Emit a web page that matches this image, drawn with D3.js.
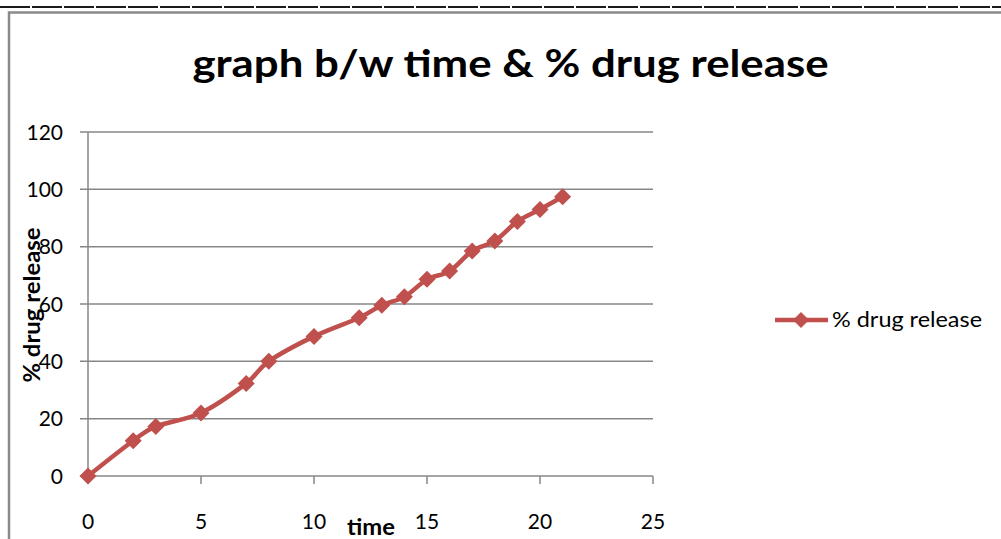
<!DOCTYPE html>
<html>
<head>
<meta charset="utf-8">
<script src="https://cdn.jsdelivr.net/npm/d3@7"></script>
<style>
  html, body { margin: 0; padding: 0; background: #fff; }
  svg { display: block; }
  text { font-family: Lato, "Open Sans", sans-serif; fill: #000; }
</style>
</head>
<body>
<svg id="chart" width="1001" height="539"></svg>
<script>
// Sampling times and cumulative drug release (%)
const times    = [0, 2, 3, 5, 7, 8, 10, 12, 13, 14, 15, 16, 17, 18, 19, 20, 21];
const releases = [0, 12.3, 17.3, 22, 32.3, 40, 48.7, 55.2, 59.6, 62.5, 68.6, 71.5, 78.5, 82, 88.8, 93, 97.4];
const xTicks = [0, 5, 10, 15, 20, 25];
const yTicks = [0, 20, 40, 60, 80, 100, 120];

const titleText  = "graph b/w time & % drug release";
const xTitle     = "time";
const yTitle     = "% drug release";
const seriesName = "% drug release";

const W = 1001, H = 539;
const lineColor = "#C0504D";
const gridColor = "#878787";

const svg = d3.select("#chart");

// page rule above the chart and the chart frame
svg.append("line")
  .attr("x1", 0).attr("x2", W).attr("y1", 7).attr("y2", 7)
  .attr("stroke", "#1a1a1a").attr("stroke-width", 2)
  .attr("stroke-dasharray", "30,2");
svg.append("path")
  .attr("d", `M9,${H + 2} V12.5 H${W + 2}`)
  .attr("fill", "none").attr("stroke", "#8a8a8a").attr("stroke-width", 2.5);

const x = d3.scaleLinear().domain([0, 25]).range([88, 653]);
const y = d3.scaleLinear().domain([0, 120]).range([476, 132]);

// horizontal gridlines (with outside tick stubs)
svg.append("g").selectAll("line").data(yTicks).join("line")
  .attr("x1", x(0) - 8).attr("x2", x(25))
  .attr("y1", d => y(d)).attr("y2", d => y(d))
  .attr("stroke", gridColor).attr("stroke-width", 1.5);

// y axis line
svg.append("line")
  .attr("x1", x(0)).attr("x2", x(0)).attr("y1", y(120)).attr("y2", y(0))
  .attr("stroke", gridColor).attr("stroke-width", 1.5);

// x tick marks
svg.append("g").selectAll("line").data(xTicks).join("line")
  .attr("x1", d => x(d)).attr("x2", d => x(d))
  .attr("y1", y(0)).attr("y2", y(0) + 8)
  .attr("stroke", gridColor).attr("stroke-width", 1.5);

// tick labels
svg.append("g").selectAll("text").data(yTicks).join("text")
  .attr("x", 63).attr("y", d => y(d) + 7.5)
  .attr("text-anchor", "end").attr("font-size", 21)
  .text(d => d);
svg.append("g").selectAll("text").data(xTicks).join("text")
  .attr("x", d => x(d)).attr("y", 529)
  .attr("text-anchor", "middle").attr("font-size", 21)
  .text(d => d);

// title
svg.append("text")
  .attr("x", 510.5).attr("y", 77)
  .attr("text-anchor", "middle").attr("font-size", 38).attr("font-weight", "bold")
  .attr("textLength", 636).attr("lengthAdjust", "spacingAndGlyphs")
  .text(titleText);

// axis titles
svg.append("text")
  .attr("x", 371).attr("y", 535)
  .attr("text-anchor", "middle").attr("font-size", 22).attr("font-weight", "bold")
  .attr("textLength", 48).attr("lengthAdjust", "spacingAndGlyphs")
  .text(xTitle);
svg.append("text")
  .attr("transform", "translate(40,305) rotate(-90)")
  .attr("text-anchor", "middle").attr("font-size", 22).attr("font-weight", "bold")
  .attr("textLength", 155).attr("lengthAdjust", "spacingAndGlyphs")
  .text(yTitle);

// series line (smoothed) and diamond markers
const pts = times.map((t, i) => [t, releases[i]]);
const line = d3.line()
  .x(d => x(d[0])).y(d => y(d[1]))
  .curve(d3.curveCardinal.tension(0));
svg.append("path")
  .attr("d", line(pts))
  .attr("fill", "none").attr("stroke", lineColor)
  .attr("stroke-width", 4.5).attr("stroke-linejoin", "round");

const diamond = (cx, cy, r) => `M${cx},${cy - r} L${cx + r},${cy} L${cx},${cy + r} L${cx - r},${cy} Z`;
svg.append("g").selectAll("path").data(pts).join("path")
  .attr("d", d => diamond(x(d[0]), y(d[1]), 8.5))
  .attr("fill", lineColor);

// legend
const lg = svg.append("g");
lg.append("line")
  .attr("x1", 775).attr("x2", 828).attr("y1", 320).attr("y2", 320)
  .attr("stroke", lineColor).attr("stroke-width", 4.5);
lg.append("path").attr("d", diamond(801, 320, 8)).attr("fill", lineColor);
lg.append("text")
  .attr("x", 832).attr("y", 327).attr("font-size", 21)
  .attr("textLength", 150).attr("lengthAdjust", "spacingAndGlyphs")
  .text(seriesName);
</script>
</body>
</html>
